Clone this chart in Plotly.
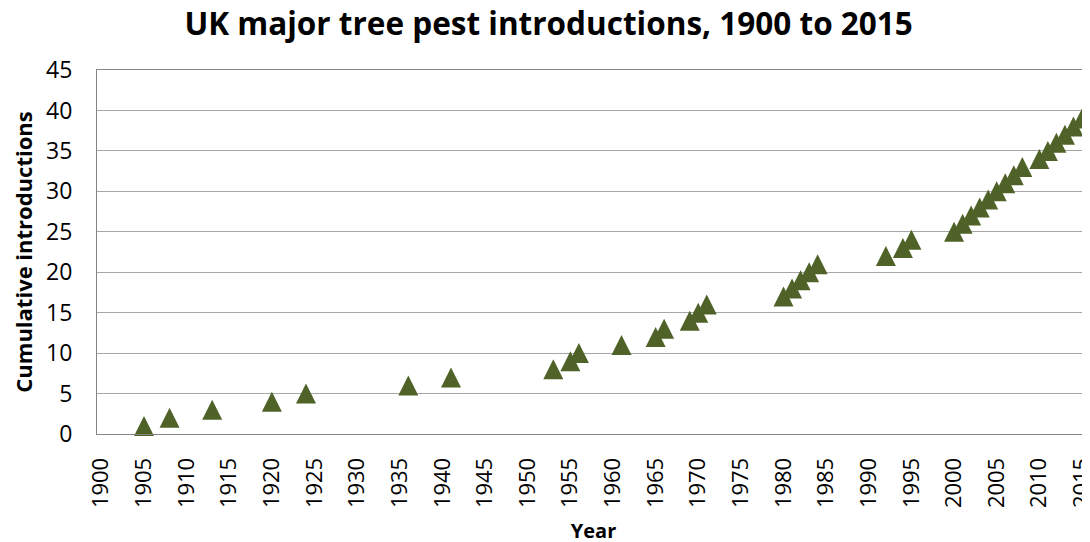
import plotly.graph_objects as go

# Year of each major tree pest introduction (cumulative count = order)
years = [1905, 1908, 1913, 1920, 1924, 1936, 1941, 1953, 1955, 1956,
         1961, 1965, 1966, 1969, 1970, 1971, 1980, 1981, 1982, 1983,
         1984, 1992, 1994, 1995, 2000, 2001, 2002, 2003, 2004, 2005,
         2006, 2007, 2008, 2010, 2011, 2012, 2013, 2014, 2015]
cumulative = list(range(1, len(years) + 1))

x_ticks = list(range(1900, 2016, 5))
y_ticks = list(range(0, 46, 5))

FONT = "Open Sans"
MARKER_COLOR = "#4F6228"
GRID = "#A6A6A6"

Y_LO, Y_HI = 0, 45
PLOT_H_PX = 364
MARKER = 20
# arrow-up marker has its tip at the data point; shift an overlay axis so the
# triangle is centred on the value
shift = (MARKER / 2) * (Y_HI - Y_LO) / PLOT_H_PX

fig = go.Figure()
# empty trace so that the primary axes (grid, ticks) are drawn
fig.add_trace(go.Scatter(x=[None], y=[None], mode="markers",
                         showlegend=False, hoverinfo="skip"))
fig.add_trace(go.Scatter(
    x=years, y=cumulative, mode="markers", yaxis="y2",
    marker=dict(symbol="arrow-up", size=MARKER, color=MARKER_COLOR,
                line=dict(width=0)),
    showlegend=False, cliponaxis=False,
))

fig.update_layout(
    width=1090, height=542,
    margin=dict(l=89, r=8, t=62, b=116),
    paper_bgcolor="white", plot_bgcolor="white",
    font=dict(family=FONT, color="#000000"),
    title=dict(text="<b>UK major tree pest introductions, 1900 to 2015</b>",
               x=0.496, xanchor="center", y=0.9705, yanchor="middle",
               font=dict(size=31.5, family=FONT, color="#000000")),
    xaxis=dict(range=[1899.49, 2015.94], tickmode="array", tickvals=x_ticks,
               ticktext=[str(v) for v in x_ticks], tickangle=-90,
               tickfont=dict(size=22, family=FONT, color="#000000"),
               showgrid=False, zeroline=False, showline=True,
               linecolor="#868686", linewidth=1, mirror=True,
               ticks="", ticklabelstandoff=14, ticklabeloverflow="allow",
               automargin=False,
               title=dict(text="<b>Year</b>", font=dict(size=20, family=FONT),
                          standoff=16)),
    yaxis=dict(range=[Y_LO, Y_HI], tickmode="array", tickvals=y_ticks,
               tickfont=dict(size=23, family=FONT, color="#000000"),
               showgrid=True, gridcolor=GRID, gridwidth=1, zeroline=False,
               showline=True, linecolor="#868686", linewidth=1, mirror=True,
               ticks="", ticklabelstandoff=19, automargin=False,
               title=dict(text="<b>Cumulative introductions</b>",
                          font=dict(size=22, family=FONT), standoff=12)),
    yaxis2=dict(range=[Y_LO - shift, Y_HI - shift], overlaying="y",
                visible=False, showgrid=False, automargin=False),
)

fig.write_html("out.html")
